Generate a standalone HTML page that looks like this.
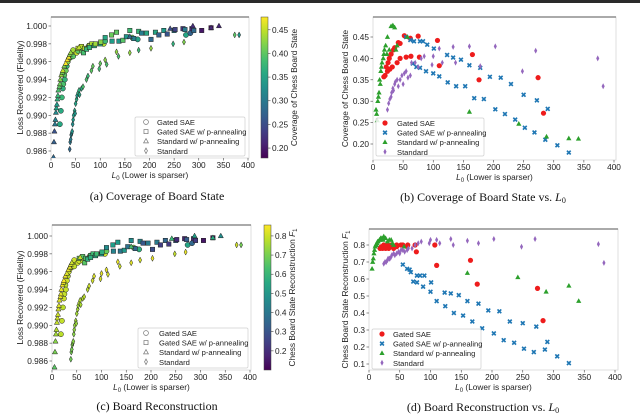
<!DOCTYPE html>
<html><head><meta charset="utf-8"><style>
html,body{margin:0;padding:0;background:#fff;width:640px;height:414px;overflow:hidden}
svg{display:block}
text{font-family:"Liberation Sans",sans-serif}
.cap{font-family:"Liberation Serif",serif;font-size:12px;fill:#111}
</style></head><body>
<svg id="fig" width="640" height="414" viewBox="0 0 640 414" xmlns="http://www.w3.org/2000/svg">
<rect x="0" y="0" width="640" height="3" fill="#2a2a2a"/>
</svg>
<script>
// ---- data: Gated SAE ----
const gL0  = [18,20,22,24,25,27,28,30,32,34,36,40,42,45,45,52,55,62,63,75,77,107,110,165,176,274,283];
const gFid = [.9890,.9905,.9920,.9930,.9935,.9945,.9940,.9950,.9955,.9960,.9963,.9965,.9968,.9973,.9966,.9970,.9972,.9974,.9972,.9976,.9978,.9980,.9983,.9987,.9985,.9990,.9992];
const gCov = [.357,.36,.38,.37,.39,.40,.375,.41,.38,.42,.425,.39,.437,.435,.40,.453,.403,.447,.405,.452,.403,.442,.383,.409,.35,.355,.272];
const gF1  = [.78,.79,.78,.80,.79,.78,.79,.80,.78,.79,.80,.78,.79,.80,.79,.80,.80,.79,.80,.80,.76,.80,.68,.71,.57,.545,.355];
// ---- data: Gated SAE w/ p-annealing ----
const gpL0  = [55,62,68,78,83,66,72,78,88,90,100,101,110,123,124,133,138,146,153,160,168,178,184,194,203,212,219,229,236,250,252,268,272,286,290,306,325];
const gpFid = [.9975,.9977,.9975,.9978,.9980,.9970,.9974,.9976,.9978,.9980,.9980,.9982,.9987,.9990,.9983,.9993,.9983,.9984,.9988,.9995,.9986,.9994,.9992,.9992,.9985,.9993,.9990,.9995,.9991,.9995,.9996,.9997,.9996,.9997,.9995,.9995,.9998];
const gpCov = [.45,.443,.44,.44,.44,.388,.38,.378,.37,.432,.365,.423,.358,.408,.344,.402,.335,.397,.335,.384,.307,.378,.305,.357,.281,.355,.27,.34,.257,.315,.238,.227,.302,.21,.282,.197,.18];
const gpF1  = [.685,.66,.64,.62,.62,.655,.585,.58,.555,.62,.525,.58,.47,.52,.44,.515,.40,.505,.385,.47,.35,.455,.31,.415,.28,.41,.24,.35,.225,.34,.19,.17,.32,.185,.23,.145,.105];
// ---- data: Standard w/ p-annealing ----
const spL0  = [5,6,7,8,9,10,11,12,13,14,15,17,18,19,21,23,24,27,30,33,36,38,40,57,160,242,288,325,341];
const spFid = [.9853,.9870,.9882,.9890,.9895,.9903,.9908,.9912,.9918,.9922,.9928,.9932,.9935,.9940,.9945,.9948,.9950,.9955,.9958,.9962,.9965,.9968,.9970,.9976,.9988,.9997,1.0000,.9998,1.0000];
const spCov = [.28,.27,.255,.30,.31,.32,.35,.34,.37,.38,.39,.40,.41,.42,.43,.41,.45,.42,.475,.477,.472,.42,.43,.45,.275,.247,.217,.213,.212];
const spF1  = [.66,.70,.72,.75,.77,.79,.80,.80,.81,.82,.82,.83,.83,.84,.84,.83,.85,.84,.82,.83,.83,.81,.80,.79,.635,.61,.525,.56,.47];
// ---- data: Standard ----
const sL0  = [24,26,28,30,31,33,34,36,37,40,42,45,48,50,52,55,58,62,64,70,75,80,85,98,100,110,115,133,137,160,178,203,248,270,373,382];
const sL0fid = [38,39,40,41,42,43,44,45,46,48,49,50,52,53,55,57,58,62,65,72,75,82,85,98,100,110,113,133,137,160,178,203,248,270,373,382];
const sFid = [.9862,.9870,.9873,.9878,.9880,.9882,.9890,.9895,.9900,.9905,.9902,.9913,.9918,.9922,.9925,.9928,.9923,.9930,.9932,.9940,.9944,.9950,.9955,.9952,.9958,.9962,.9957,.9971,.9966,.9970,.9973,.9975,.9980,.9982,.9990,.9990];
const sCov = [.28,.295,.305,.31,.32,.33,.325,.34,.345,.35,.335,.35,.36,.34,.365,.37,.355,.36,.39,.39,.38,.40,.405,.385,.405,.423,.39,.427,.39,.428,.382,.428,.37,.418,.40,.335];
const sF1  = [.69,.70,.70,.71,.72,.72,.72,.73,.74,.75,.74,.75,.76,.75,.77,.77,.76,.77,.78,.78,.80,.81,.82,.81,.83,.83,.81,.835,.80,.825,.81,.835,.79,.835,.805,.695];
// ---- tick labels ----
const xTicks = [0,50,100,150,200,250,300,350,400];
const fidTicks = [0.986,0.988,0.990,0.992,0.994,0.996,0.998,1.000];
const covTicks = [0.20,0.25,0.30,0.35,0.40,0.45];
const f1Ticks = [0.1,0.2,0.3,0.4,0.5,0.6,0.7,0.8];
const cbCovTicks = [0.20,0.25,0.30,0.35,0.40,0.45];
const cbF1Ticks = [0.2,0.3,0.4,0.5,0.6,0.7,0.8];
const seriesNames = ["Gated SAE","Gated SAE w/ p-annealing","Standard w/ p-annealing","Standard"];

const NS="http://www.w3.org/2000/svg";
const svg=document.getElementById('fig');
function mk(tag,attrs,parent){const e=document.createElementNS(NS,tag);for(const k in attrs)e.setAttribute(k,attrs[k]);(parent||svg).appendChild(e);return e;}
function txt(s,attrs,parent){const e=mk('text',attrs,parent);e.textContent=s;return e;}

const VIR=[[68,1,84],[72,40,120],[62,73,137],[49,104,142],[38,130,142],[31,158,137],[53,183,121],[110,206,88],[181,222,43],[253,231,37]];
function viridis(t){t=Math.max(0,Math.min(1,t));const f=t*(VIR.length-1);const i=Math.min(VIR.length-2,Math.floor(f));const r=f-i;const a=VIR[i],b=VIR[i+1];return `rgb(${Math.round(a[0]+(b[0]-a[0])*r)},${Math.round(a[1]+(b[1]-a[1])*r)},${Math.round(a[2]+(b[2]-a[2])*r)})`;}

function marker(g,shape,x,y,s,fill,stroke,sw){
  let e;
  if(shape===0) e=mk('circle',{cx:x,cy:y,r:s},g);
  else if(shape===1){
    if(stroke==='none'){
      const a=s*0.95,w=s*0.45;
      e=mk('path',{d:`M${x-a} ${y-a+w}L${x-a+w} ${y-a}L${x} ${y-w}L${x+a-w} ${y-a}L${x+a} ${y-a+w}L${x+w} ${y}L${x+a} ${y+a-w}L${x+a-w} ${y+a}L${x} ${y+w}L${x-a+w} ${y+a}L${x-a} ${y+a-w}L${x-w} ${y}Z`},g);
    } else e=mk('rect',{x:x-s*0.85,y:y-s*0.85,width:s*1.7,height:s*1.7},g);
  }
  else if(shape===2) e=mk('path',{d:`M${x} ${y-s*1.1}L${x+s} ${y+s*0.7}L${x-s} ${y+s*0.7}Z`},g);
  else e=mk('path',{d:`M${x} ${y-s*1.15}L${x+s*0.6} ${y}L${x} ${y+s*1.15}L${x-s*0.6} ${y}Z`},g);
  e.setAttribute('fill',fill);e.setAttribute('stroke',stroke);e.setAttribute('stroke-width',sw);
  return e;
}

const L0s=[gL0,gpL0,spL0,sL0], L0fid=[gL0,gpL0,spL0,sL0fid], FIDs=[gFid,gpFid,spFid,sFid], COVs=[gCov,gpCov,spCov,sCov], F1s=[gF1,gpF1,spF1,sF1];
const SCOL=['#ee1c1c','#1f77b4','#2ca02c','#9467bd'];

function panel(cfg){
  const g=mk('g',{});
  
  
  const {x0,x1,y0,y1}=cfg;
  const xs=v=>cfg.px0+(v-0)*(cfg.px400-cfg.px0)/400;
  const ys=v=>cfg.py0+(v-cfg.v0)*(cfg.py1-cfg.py0)/(cfg.v1-cfg.v0);
  const bg=mk('rect',{x:x0,y:y0,width:x1-x0,height:y1-y0,fill:'#fff',stroke:'#d8d8d8','stroke-width':0.8},g);
  
  const ts=mk('line',{x1:x0,x2:x1,y1:y0,y2:y0,stroke:'#777','stroke-width':1.2},g);
  
  xTicks.forEach(t=>{const X=xs(t);mk('line',{x1:X,x2:X,y1:y1,y2:y1+2.5,stroke:'#444','stroke-width':0.6},g);
    const l=txt(String(t),{x:X,y:y1+10,'font-size':8.3,'text-anchor':'middle',fill:'#222'},g);
    });
  cfg.yTicks.forEach(t=>{const Y=ys(t);mk('line',{x1:x0-2.5,x2:x0,y1:Y,y2:Y,stroke:'#444','stroke-width':0.6},g);
    const l=txt(t.toFixed(cfg.dec),{x:x0-4,y:Y+3,'font-size':8.3,'text-anchor':'end',fill:'#222'},g);
    });
  const xl=mk('text',{x:(x0+x1)/2,y:y1+20,'font-size':8.3,'text-anchor':'middle',fill:'#222'},g);
  xl.innerHTML='<tspan font-style="italic">L</tspan><tspan font-size="6" dy="2">0</tspan><tspan dy="-2"> (Lower is sparser)</tspan>';
  
  const yl=mk('text',{x:0,y:0,'font-size':8.3,'text-anchor':'middle',fill:'#222',transform:`translate(${cfg.ylx},${(y0+y1)/2}) rotate(-90)`},g);
  yl.innerHTML=cfg.ylab;
  
  const cid='c'+cfg.name;
  const cp=mk('clipPath',{id:cid},g);mk('rect',{x:x0,y:y0,width:x1-x0,height:y1-y0},cp);
  const pg=mk('g',{'clip-path':`url(#${cid})`},g);
  const xsrc=cfg.cArr?L0fid:L0s;
  for(let s=0;s<4;s++){
    const L=xsrc[s],Y=cfg.yArr[s];
    for(let i=0;i<L.length;i++){
      let m;
      if(cfg.cArr){const c=cfg.cArr[s][i];m=marker(pg,s,xs(L[i]),ys(Y[i]),2.6,viridis((c-cfg.cmin)/(cfg.cmax-cfg.cmin)),'#222',0.5);}
      else m=marker(pg,s,xs(L[i]),ys(Y[i]),2.6,SCOL[s],'none',0);
      
      
    }
  }
  const lg=mk('g',{},g);
  
  const lb=cfg.leg;
  mk('rect',{x:lb.x,y:lb.y,width:lb.w,height:lb.h,fill:'#fff','fill-opacity':0.85,stroke:'#d0d0d0','stroke-width':0.7,rx:1.5},lg);
  seriesNames.forEach((n,k)=>{const yy=lb.y+5+k*9.6;
    if(cfg.cArr) marker(lg,k,lb.mx,yy,2.4,'none','#777',0.7);
    else marker(lg,k,lb.mx,yy,2.6,SCOL[k],'none',0);
    const t=txt(n,{x:lb.tx,y:yy+3,'font-size':7.6,fill:'#222'},lg);
    });
  if(cfg.cb){
    const cb=cfg.cb;
    const cg=mk('g',{},g);
    const gid='gr'+cfg.name;const lgr=mk('linearGradient',{id:gid,x1:0,y1:1,x2:0,y2:0},cg);
    for(let k=0;k<=10;k++)mk('stop',{offset:k/10,'stop-color':viridis(k/10)},lgr);
    mk('rect',{x:cb.x,y:y0,width:7,height:y1-y0,fill:`url(#${gid})`,stroke:'#444','stroke-width':0.5},cg);
    const cs=v=>y1-(v-cfg.cmin)/(cfg.cmax-cfg.cmin)*(y1-y0);
    cb.ticks.forEach(t=>{const Y=cs(t);mk('line',{x1:cb.x+7,x2:cb.x+9.5,y1:Y,y2:Y,stroke:'#444','stroke-width':0.6},cg);
      const l=txt(t.toFixed(cb.dec),{x:cb.x+11,y:Y+3,'font-size':8.3,fill:'#222'},cg);
      });
    const cl=mk('text',{x:0,y:0,'font-size':8.3,'text-anchor':'middle',fill:'#222',transform:`translate(${cb.lx},${(y0+y1)/2}) rotate(-90)`},cg);
    cl.innerHTML=cb.lab;
  }
  const cap=mk('text',{x:cfg.capx,y:cfg.capy,'text-anchor':'middle',class:'cap'},g);
  cap.innerHTML=cfg.cap;
}
const F1lab='Chess Board State Reconstruction <tspan font-style="italic">F</tspan><tspan font-size="6" dy="2">1</tspan>';
panel({name:'panel-a',x0:51,x1:249,y0:17,y1:158,px0:51,px400:248,v0:1.0,v1:0.986,py0:26,py1:151,yTicks:fidTicks,dec:3,
  ylx:23,ylab:'Loss Recovered (Fidelity)',yArr:FIDs,cArr:COVs,cmin:0.179,cmax:0.477,
  leg:{x:135,y:117,w:110,h:39,mx:146,tx:157},
  cb:{x:261,ticks:cbCovTicks,dec:2,lx:297,lab:'Coverage of Chess Board State'},cap:'(a) Coverage of Board State',capx:157,capy:200});
panel({name:'panel-b',x0:373,x1:616,y0:17,y1:160,px0:373,px400:614,v0:0.45,v1:0.20,py0:37,py1:144,yTicks:covTicks,dec:2,
  ylx:348,ylab:'Coverage of Chess Board State',yArr:COVs,
  leg:{x:376,y:118,w:108,h:38,mx:385,tx:397},cap:'(b) Coverage of Board State vs. <tspan font-style="italic">L</tspan><tspan font-size="8" dy="2">0</tspan>',capx:483,capy:201});
panel({name:'panel-c',x0:52,x1:251,y0:225,y1:370,px0:52,px400:250,v0:1.0,v1:0.986,py0:236,py1:361,yTicks:fidTicks,dec:3,
  ylx:23,ylab:'Loss Recovered (Fidelity)',yArr:FIDs,cArr:F1s,cmin:0.10,cmax:0.857,
  leg:{x:138,y:328,w:110,h:40,mx:146,tx:159},
  cb:{x:264,ticks:cbF1Ticks,dec:1,lx:295,lab:F1lab},cap:'(c) Board Reconstruction',capx:157,capy:410});
panel({name:'panel-d',x0:369,x1:618,y0:229,y1:370,px0:369,px400:615,v0:0.8,v1:0.1,py0:245,py1:364,yTicks:f1Ticks,dec:1,
  ylx:348,ylab:F1lab,yArr:F1s,
  leg:{x:372,y:329,w:109,h:40,mx:382,tx:393},cap:'(d) Board Reconstruction vs. <tspan font-style="italic">L</tspan><tspan font-size="8" dy="2">0</tspan>',capx:483,capy:411});
</script>
</body></html>
